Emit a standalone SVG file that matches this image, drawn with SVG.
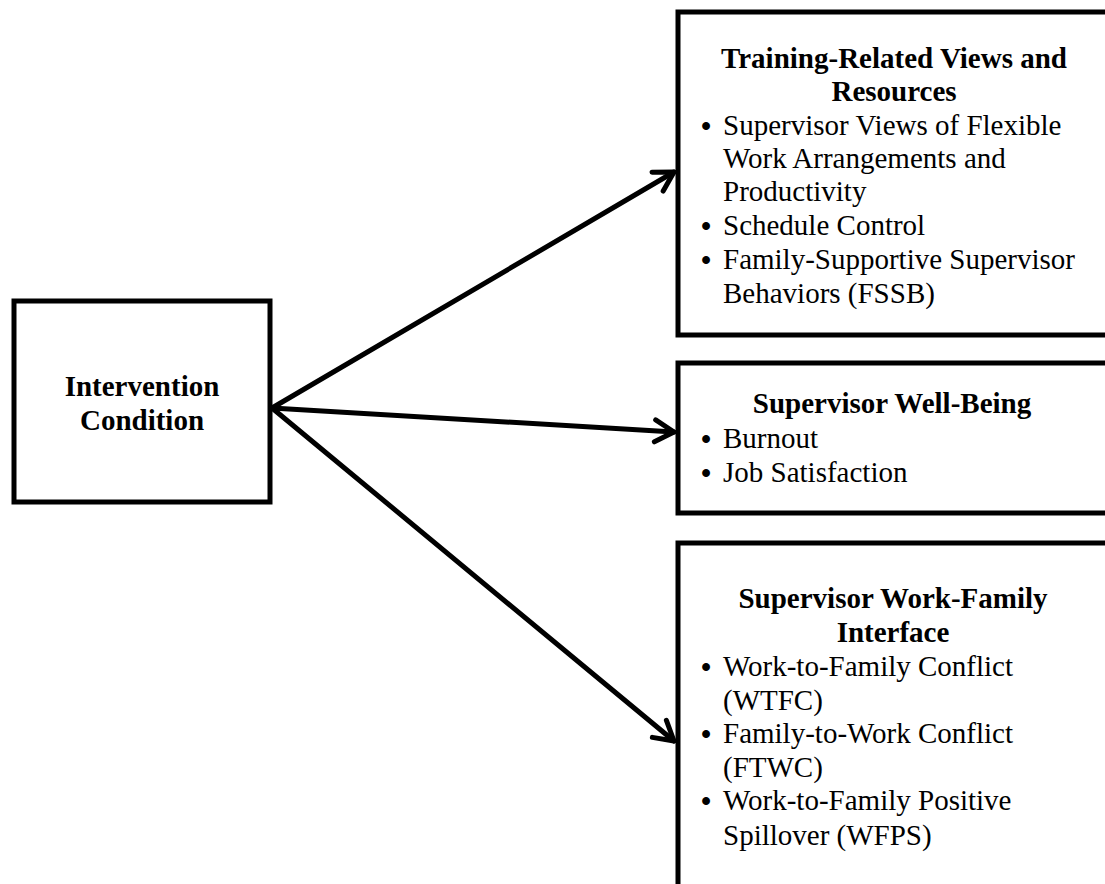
<svg xmlns="http://www.w3.org/2000/svg" width="1105" height="884" viewBox="0 0 1105 884">
<style>
.box{fill:#fff;stroke:#000;stroke-width:5}
.t{font-family:"Liberation Serif","Times New Roman",serif;font-size:29px;fill:#000}
.bu{font-family:"Liberation Serif","Times New Roman",serif;font-size:29px;font-weight:bold;fill:#000}
.b{font-weight:bold}
.c{text-anchor:middle}
.conn{stroke:#000;stroke-width:5;fill:none;stroke-linecap:round}
</style>
<defs>
<marker id="ah" markerUnits="userSpaceOnUse" viewBox="-30 -20 40 40" markerWidth="40" markerHeight="40" refX="0" refY="0" orient="auto" overflow="visible">
<path d="M-19,-11 L0,0 L-19,11" fill="none" stroke="#000" stroke-width="5" stroke-linecap="round" stroke-linejoin="round"/>
</marker>
</defs>
<rect width="1105" height="884" fill="#fff"/>
<g id="connectors">
<line class="conn" x1="272" y1="408" x2="674" y2="172" marker-end="url(#ah)"/>
<line class="conn" x1="272" y1="408" x2="674" y2="432" marker-end="url(#ah)"/>
<line class="conn" x1="272" y1="408" x2="674" y2="741" marker-end="url(#ah)"/>
</g>
<g id="intervention">
<rect class="box" x="14" y="301" width="256" height="201"/>
<text class="t b c" x="142" y="396">Intervention</text>
<text class="t b c" x="142" y="430">Condition</text>
</g>
<g id="training">
<rect class="box" x="678" y="12" width="440" height="323"/>
<text class="t b c" x="894" y="68">Training-Related Views and</text>
<text class="t b c" x="894" y="101">Resources</text>
<text class="bu" x="701" y="136">•</text>
<text class="t" x="723" y="135">Supervisor Views of Flexible</text>
<text class="t" x="723" y="168">Work Arrangements and</text>
<text class="t" x="723" y="201">Productivity</text>
<text class="bu" x="701" y="236">•</text>
<text class="t" x="723" y="235">Schedule Control</text>
<text class="bu" x="701" y="270">•</text>
<text class="t" x="723" y="269">Family-Supportive Supervisor</text>
<text class="t" x="723" y="303">Behaviors (FSSB)</text>
</g>
<g id="wellbeing">
<rect class="box" x="678" y="363" width="440" height="150"/>
<text class="t b c" x="892" y="413">Supervisor Well-Being</text>
<text class="bu" x="701" y="449">•</text>
<text class="t" x="723" y="448">Burnout</text>
<text class="bu" x="701" y="483">•</text>
<text class="t" x="723" y="482">Job Satisfaction</text>
</g>
<g id="workfamily">
<rect class="box" x="678" y="543" width="440" height="360"/>
<text class="t b c" x="893" y="608">Supervisor Work-Family</text>
<text class="t b c" x="893" y="642">Interface</text>
<text class="bu" x="701" y="677">•</text>
<text class="t" x="723" y="676">Work-to-Family Conflict</text>
<text class="t" x="723" y="710">(WTFC)</text>
<text class="bu" x="701" y="744">•</text>
<text class="t" x="723" y="743">Family-to-Work Conflict</text>
<text class="t" x="723" y="777">(FTWC)</text>
<text class="bu" x="701" y="811">•</text>
<text class="t" x="723" y="810">Work-to-Family Positive</text>
<text class="t" x="723" y="845">Spillover (WFPS)</text>
</g>
</svg>
